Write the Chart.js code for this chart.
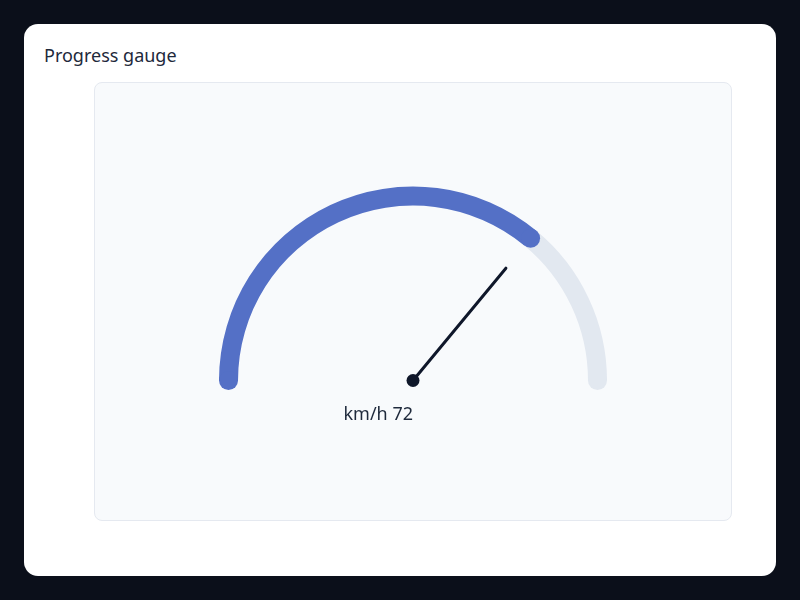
<!DOCTYPE html>
<html>
<head>
<meta charset="utf-8">
<script src="https://cdn.jsdelivr.net/npm/chart.js@4.4.1/dist/chart.umd.min.js"></script>
<style>
  html, body { margin: 0; padding: 0; }
  body { width: 800px; height: 600px; background: #0b0f1a; font-family: 'Noto Sans', sans-serif; position: relative; overflow: hidden; }
  .card { position: absolute; left: 24px; top: 24px; width: 752px; height: 552px; background: #ffffff; border-radius: 14px; }
  .title { position: absolute; left: 20px; top: 19px; font-size: 18px; color: #1e293b; }
  .panel { position: absolute; left: 70px; top: 58px; width: 636px; height: 437px; background: #f8fafc; border: 1px solid #e5e9f0; border-radius: 8px; }
  .panel canvas { position: absolute; left: 0; top: 0; }
</style>
</head>
<body>
<div class="card">
  <div class="title">Progress gauge</div>
  <div class="panel"><canvas id="gaugeChart" width="636" height="437"></canvas></div>
</div>
<script>
// gauge data
const gaugeRange = [0, 100];
const gaugeValue = [72];
const unitLabel = 'km/h';
const segmentColors = ['#5470c6', '#e2e8f0'];

const restValue = gaugeRange[1] - gaugeValue[0];

// round caps, needle and value text drawn from the arc geometry chart.js computed
const gaugeDecor = {
    id: 'gaugeDecor',
    afterDatasetsDraw(chart) {
        const meta = chart.getDatasetMeta(0);
        const valArc = meta.data[0];
        const restArc = meta.data[1];
        const ctx = chart.ctx;
        const cx = valArc.x, cy = valArc.y;
        const mid = (valArc.outerRadius + valArc.innerRadius) / 2;
        const w = valArc.outerRadius - valArc.innerRadius;

        function cap(angle, color) {
            ctx.beginPath();
            ctx.arc(cx + Math.cos(angle) * mid, cy + Math.sin(angle) * mid, w / 2, 0, Math.PI * 2);
            ctx.fillStyle = color;
            ctx.fill();
        }
        ctx.save();
        cap(restArc.endAngle, segmentColors[1]);
        cap(valArc.startAngle, segmentColors[0]);
        cap(valArc.endAngle, segmentColors[0]);

        // needle
        const a = valArc.endAngle;
        const len = mid * 0.79;
        ctx.beginPath();
        ctx.moveTo(cx, cy);
        ctx.lineTo(cx + Math.cos(a) * len, cy + Math.sin(a) * len);
        ctx.strokeStyle = '#0f172a';
        ctx.lineWidth = 3;
        ctx.lineCap = 'round';
        ctx.stroke();
        ctx.beginPath();
        ctx.arc(cx, cy, 6.5, 0, Math.PI * 2);
        ctx.fillStyle = '#0f172a';
        ctx.fill();

        // value text
        ctx.font = '18px "Noto Sans"';
        ctx.fillStyle = '#1e293b';
        ctx.textAlign = 'right';
        ctx.textBaseline = 'middle';
        ctx.fillText(unitLabel + ' ' + gaugeValue[0], cx, cy + 34);
        ctx.restore();
    }
};

const ctx = document.getElementById('gaugeChart').getContext('2d');
window.gaugeChart = new Chart(ctx, {
    type: 'doughnut',
    data: {
        labels: ['value', 'rest'],
        datasets: [{
            data: [gaugeValue[0] - gaugeRange[0], restValue],
            backgroundColor: segmentColors,
            borderWidth: 0
        }]
    },
    options: {
        responsive: false,
        animation: false,
        events: [],
        rotation: -90,
        circumference: 180,
        radius: 194,
        cutout: '90.2%',
        layout: { padding: { left: 0, right: 0, top: 0, bottom: 36 } },
        plugins: {
            legend: { display: false },
            tooltip: { enabled: false }
        }
    },
    plugins: [gaugeDecor]
});
</script>
</body>
</html>
